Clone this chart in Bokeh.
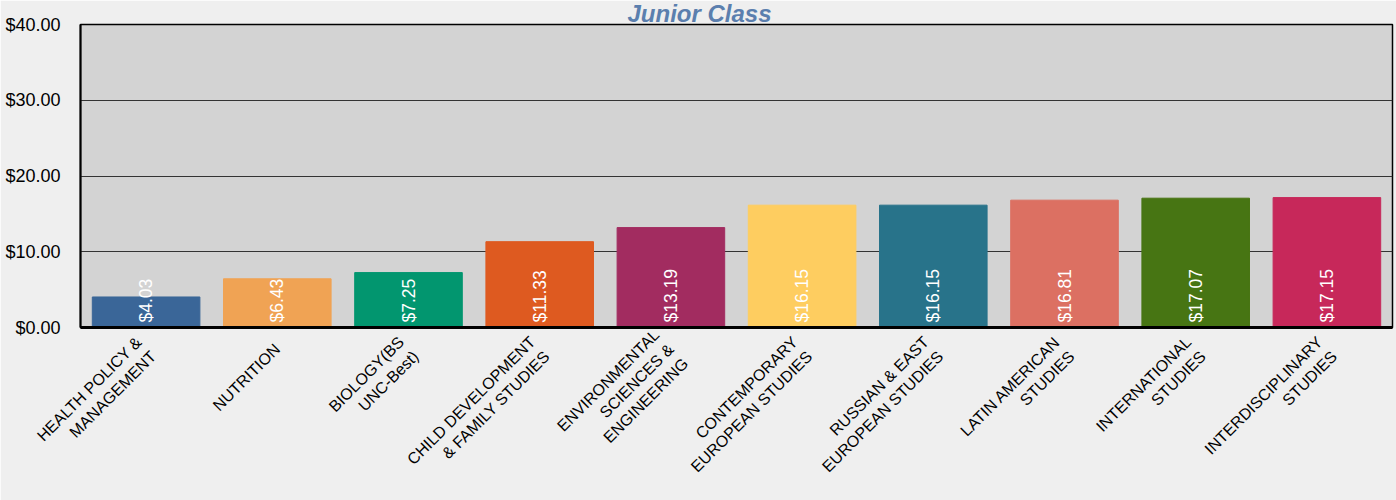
import math
from bokeh.plotting import figure
from bokeh.models import ColumnDataSource, FactorRange, Range1d, SingleIntervalTicker, NumeralTickFormatter
from bokeh.core.properties import value
from bokeh.embed import file_html
from bokeh.resources import INLINE

categories = [
    "HEALTH POLICY &\nMANAGEMENT",
    "NUTRITION",
    "BIOLOGY(BS\nUNC-Best)",
    "CHILD DEVELOPMENT\n& FAMILY STUDIES",
    "ENVIRONMENTAL\nSCIENCES &\nENGINEERING",
    "CONTEMPORARY\nEUROPEAN STUDIES",
    "RUSSIAN & EAST\nEUROPEAN STUDIES",
    "LATIN AMERICAN\nSTUDIES",
    "INTERNATIONAL\nSTUDIES",
    "INTERDISCIPLINARY\nSTUDIES",
]
values = [4.03, 6.43, 7.25, 11.33, 13.19, 16.15, 16.15, 16.81, 17.07, 17.15]
palette = ["#3a6698", "#f0a354", "#02966f", "#de5a20", "#a22c60",
           "#fecd60", "#28738a", "#dc7062", "#477513", "#c7285a"]
title_text = "Junior Class"

FONT = "Liberation Sans"

src = ColumnDataSource(dict(
    x=categories,
    top=values,
    color=palette,
    label=["${:.2f}".format(v) for v in values],
))

p = figure(
    x_range=FactorRange(*categories, range_padding=0),
    y_range=Range1d(0, 40),
    width=1396, height=500,
    title=title_text,
    output_backend="svg", toolbar_location=None,
    min_border_left=80, min_border_right=4, min_border_top=0, min_border_bottom=173,
)
p.border_fill_color = "#efefef"
p.background_fill_color = "#d3d3d3"
p.outline_line_color = "black"
p.outline_line_width = 1.5

p.title.align = "left"
p.title.offset = 547
p.title.standoff = -5
p.title.text_color = "#5b7fae"
p.title.text_font = FONT
p.title.text_font_size = "24px"
p.title.text_font_style = "bold italic"

p.vbar(x="x", top="top", bottom=0, width=0.82, color="color", source=src)

p.text(x="x", y=0, text="label", source=src, angle=math.pi / 2,
       text_align="left", text_baseline="middle", y_offset=-5,
       text_color="white", text_font=value(FONT), text_font_size="17.5px")

# axes
p.yaxis.ticker = SingleIntervalTicker(interval=10)
p.yaxis.formatter = NumeralTickFormatter(format="$0.00")
p.yaxis.major_label_text_font = FONT
p.yaxis.major_label_text_font_size = "18px"
p.yaxis.major_label_text_color = "black"
p.yaxis.major_tick_line_color = None
p.yaxis.minor_tick_line_color = None
p.yaxis.axis_line_color = "black"
p.yaxis.axis_line_width = 2
p.yaxis.major_label_standoff = 14

p.xaxis.major_label_orientation = math.pi / 4
p.xaxis.major_label_text_font = FONT
p.xaxis.major_label_text_font_size = "16px"
p.xaxis.major_label_text_color = "black"
p.xaxis.major_tick_line_color = None
p.xaxis.axis_line_color = "black"
p.xaxis.axis_line_width = 3
p.xaxis.major_label_standoff = 13

p.xgrid.grid_line_color = None
p.ygrid.grid_line_color = "#333333"
p.ygrid.grid_line_width = 1

open("out.html", "w").write(file_html(p, INLINE))
